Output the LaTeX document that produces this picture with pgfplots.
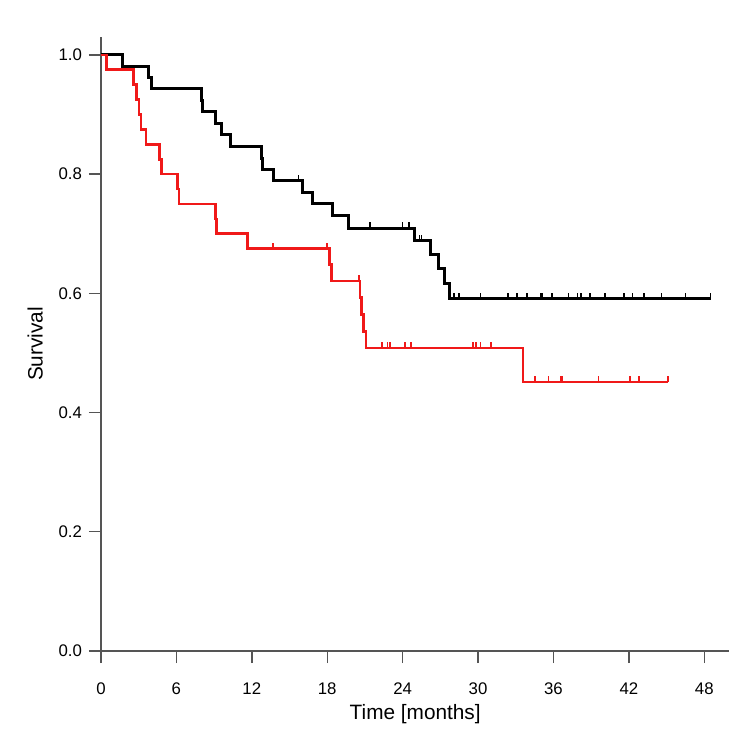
\documentclass[border=0pt]{standalone}
\usepackage{fontspec}
\setmainfont{Liberation Sans}
\usepackage{pgfplots}
\pgfplotsset{compat=1.18}
\pgfdeclareplotmark{cens}{\pgfpathmoveto{\pgfpoint{0pt}{0pt}}\pgfpathlineto{\pgfpoint{0pt}{\pgfplotmarksize}}\pgfusepathqstroke}
\definecolor{kmred}{RGB}{240,25,25}
\definecolor{axgray}{RGB}{85,85,85}
\begin{document}
\begin{tikzpicture}
\begin{axis}[name=ax, at={(0,0)}, anchor=south west,
  scale only axis, width=314.2pt, height=307pt,
  xmin=0, xmax=50, ymin=0, ymax=1.03,
  axis x line*=bottom, axis y line*=left,
  axis line style={-, axgray, line width=0.7pt},
  xtick={0,6,...,48}, ytick={0,0.2,0.4,0.6,0.8,1.0},
  tick align=outside, major tick length=6pt,
  tick style={axgray, line width=0.7pt},
  /pgf/number format/assume math mode=true,
  yticklabel style={/pgf/number format/fixed, /pgf/number format/fixed zerofill, /pgf/number format/precision=1},
  ticklabel style={font=\fontsize{8.4}{10}\selectfont},
  xticklabel shift=6.5pt,
  label style={font=\fontsize{10.4}{12}\selectfont},
  xlabel={Time [months]}, ylabel={Survival},
  ylabel shift=1pt, xlabel shift=-2pt,
  clip=false]
% group 1 (black)
\addplot[const plot mark left, black, line width=1.5pt] coordinates {
(0,1.0) (1.73,0.981) (3.77,0.962) (4.03,0.943) (7.96,0.924) (8.1,0.905)
(9.08,0.885) (9.55,0.866) (10.3,0.846) (12.75,0.827) (12.85,0.808)
(13.72,0.789) (16.0,0.769) (16.8,0.750) (18.4,0.730) (19.7,0.709)
(24.95,0.688) (26.2,0.665) (26.85,0.641) (27.3,0.616) (27.75,0.591)
(48.5,0.591)};
\addplot[only marks, mark=cens, mark size=3pt, black, line width=0.7pt] coordinates {
(15.7,0.789) (21.4,0.709) (24.0,0.709) (24.5,0.709) (25.35,0.688) (25.5,0.688)
(28.1,0.591) (28.5,0.591) (30.2,0.591) (32.4,0.591) (33.1,0.591) (33.9,0.591)
(34.95,0.591) (35.1,0.591) (35.9,0.591) (37.2,0.591) (37.9,0.591) (38.2,0.591)
(38.9,0.591) (40.1,0.591) (41.6,0.591) (42.3,0.591) (43.2,0.591) (44.6,0.591)
(46.5,0.591) (48.5,0.591)};
% group 2 (red)
\addplot[const plot mark left, kmred, line width=1.3pt] coordinates {
(0,1.0) (0.45,0.975) (2.57,0.95) (2.84,0.925) (3.03,0.90) (3.19,0.875)
(3.58,0.85) (4.64,0.825) (4.83,0.80) (6.08,0.775) (6.21,0.75)
(9.13,0.725) (9.2,0.70) (11.65,0.675) (18.2,0.648) (18.35,0.621)
(20.6,0.593) (20.75,0.564) (20.9,0.536) (21.07,0.508) (33.57,0.451)
(45.1,0.451)};
\addplot[only marks, mark=cens, mark size=3pt, kmred, line width=0.8pt] coordinates {
(13.67,0.675) (17.97,0.675) (20.55,0.621)
(22.35,0.508) (22.8,0.508) (23.0,0.508) (24.2,0.508) (24.68,0.508)
(29.6,0.508) (29.85,0.508) (30.2,0.508) (31.05,0.508)
(34.53,0.451) (35.6,0.451) (36.6,0.451) (36.7,0.451) (39.6,0.451)
(42.1,0.451) (42.8,0.451) (45.1,0.451)};
\end{axis}
\useasboundingbox ([shift={(-50.5pt,-49.5pt)}]ax.south west) rectangle ([shift={(324.5pt,325.5pt)}]ax.south west);
\end{tikzpicture}
\end{document}
